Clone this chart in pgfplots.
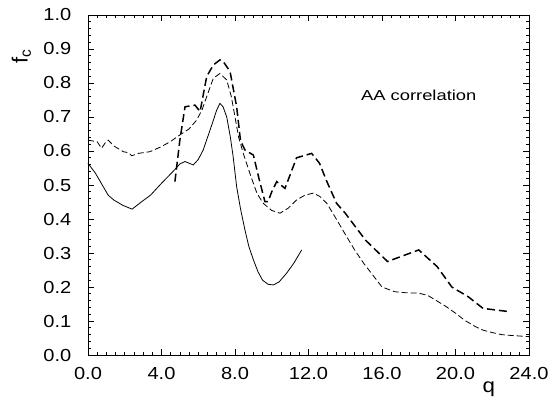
\documentclass[border=0pt]{standalone}
\usepackage{fontspec}
\setmainfont{Liberation Sans}
\usepackage{pgfplots}
\pgfplotsset{compat=1.18}
\usetikzlibrary{calc}
\begin{document}
\begin{tikzpicture}
\begin{axis}[
  scale only axis, width=441bp, height=340bp,
  xmin=0, xmax=24, ymin=0, ymax=1,
  xtick={0,4,8,12,16,20,24},
  xticklabels={0.0,4.0,8.0,12.0,16.0,20.0,24.0},
  ytick={0,0.1,0.2,0.3,0.4,0.5,0.6,0.7,0.8,0.9,1.0},
  yticklabels={0.0,0.1,0.2,0.3,0.4,0.5,0.6,0.7,0.8,0.9,1.0},
  minor x tick num=7, minor y tick num=4,
  tick align=inside,
  major tick length=6bp, minor tick length=3bp,
  every tick/.style={black, line width=0.7pt},
  axis line style={line width=0.9pt},
  tick label style={font=\fontsize{17.5}{19}\selectfont, xscale=1.15},
  yticklabel style={xshift=-11bp},
  xticklabel style={yshift=-9bp},
  clip=false,
]
\addplot[black, line width=0.8pt] coordinates {
(0,0.564) (0.4,0.535) (0.83,0.495) (1.1,0.47) (1.4,0.456) (1.9,0.44) (2.4,0.429) (2.9,0.45) (3.4,0.47) (4.0,0.505) (4.7,0.544) (5.0,0.562) (5.28,0.569) (5.73,0.559) (6.0,0.575) (6.27,0.603) (6.6,0.655) (6.82,0.69) (7.0,0.72) (7.18,0.74) (7.35,0.73) (7.55,0.70) (7.75,0.64) (7.9,0.583) (8.09,0.495) (8.3,0.43) (8.54,0.368) (8.75,0.32) (9.0,0.28) (9.25,0.245) (9.5,0.22) (9.8,0.208) (10.09,0.206) (10.4,0.215) (10.8,0.24) (11.2,0.27) (11.63,0.309)
};
\addplot[black, line width=0.8pt, dash pattern=on 6bp off 3bp] coordinates {
(0,0.632) (0.5,0.627) (0.74,0.608) (0.95,0.625) (1.1,0.632) (1.4,0.615) (1.92,0.598) (2.2,0.595) (2.38,0.586) (2.74,0.593) (3.37,0.598) (4.0,0.613) (4.46,0.627) (5.0,0.647) (5.5,0.665) (5.9,0.69) (6.2,0.72) (6.46,0.76) (6.82,0.814) (7.18,0.828) (7.55,0.809) (7.8,0.76) (8.0,0.70) (8.2,0.64) (8.45,0.593) (8.9,0.52) (9.2,0.475) (9.54,0.446) (10.0,0.425) (10.45,0.417) (10.9,0.432) (11.35,0.456) (11.8,0.47) (12.26,0.476) (12.6,0.467) (13.0,0.446) (13.6,0.392) (14.0,0.355) (14.5,0.31) (15.0,0.27) (15.5,0.235) (16.0,0.2) (16.7,0.186) (17.3,0.183) (18.0,0.182) (18.5,0.175) (18.9,0.162) (19.5,0.142) (20.0,0.123) (20.5,0.102) (21.1,0.083) (21.5,0.073) (22.0,0.066) (22.5,0.06) (22.9,0.058) (24.0,0.054)
};
\addplot[black, line width=1.5pt, dash pattern=on 8bp off 4bp] coordinates {
(4.73,0.51) (5.0,0.632) (5.28,0.73) (5.82,0.735) (6.1,0.716) (6.46,0.819) (6.82,0.853) (7.18,0.868) (7.36,0.863) (7.73,0.834) (8.09,0.73) (8.3,0.63) (8.54,0.603) (9.0,0.588) (9.3,0.52) (9.63,0.451) (9.8,0.451) (10.0,0.48) (10.27,0.51) (10.72,0.49) (11.0,0.53) (11.35,0.58) (12.17,0.593) (12.6,0.564) (13.0,0.51) (13.53,0.446) (14.0,0.417) (15.1,0.338) (16.3,0.275) (18.0,0.309) (19.0,0.26) (19.8,0.2) (20.7,0.171) (21.5,0.137) (23.0,0.127)
};
\node[font=\fontsize{14.5}{16}\selectfont, xscale=1.27] at (axis cs:18.0,0.765) {AA correlation};
\node[font=\fontsize{22}{24}\selectfont, rotate=90] at (axis description cs:-0.151,0.879) {f\textsubscript{c}};
\node[font=\fontsize{20}{22}\selectfont, xscale=1.12] at (axis description cs:0.909,-0.101) {q};
\end{axis}
\pgfresetboundingbox
\path[use as bounding box] ($(current axis.south west)+(-88bp,-52bp)$) rectangle ($(current axis.north east)+(21bp,15bp)$);
\end{tikzpicture}
\end{document}
